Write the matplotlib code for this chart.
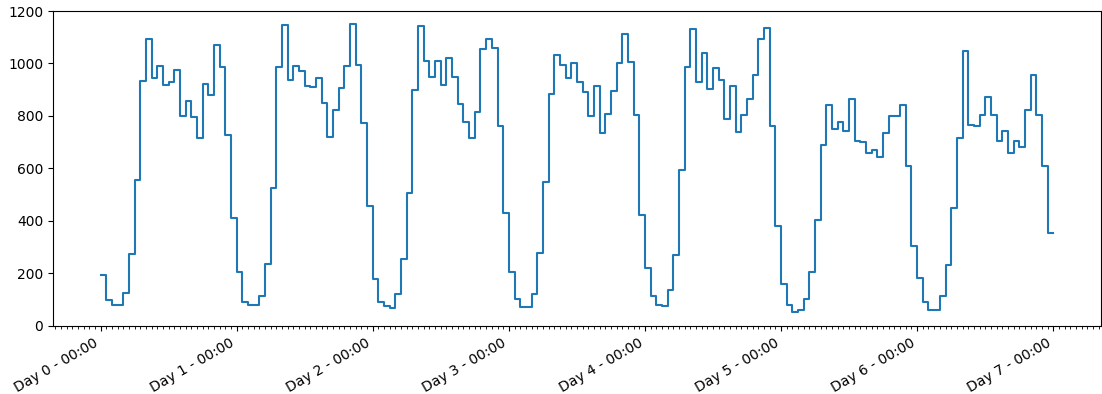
import matplotlib
matplotlib.use("Agg")
import matplotlib.pyplot as plt
import numpy as np
from matplotlib.ticker import MultipleLocator, FixedLocator

day0 = [195, 99, 78, 78, 125, 275, 555, 933, 1092, 945, 990, 919, 931, 977, 799, 856, 796, 716, 920, 879, 1070, 987, 729, 411]
day1 = [207, 92, 78, 78, 115, 235, 525, 987, 1145, 939, 992, 971, 913, 910, 943, 850, 720, 824, 906, 990, 1149, 994, 774, 458]
day2 = [178, 90, 74, 67, 122, 256, 506, 898, 1142, 1009, 949, 1011, 917, 1020, 948, 847, 777, 716, 815, 1057, 1092, 1060, 763, 430]
day3 = [204, 102, 71, 71, 122, 277, 548, 885, 1034, 996, 945, 1003, 930, 891, 799, 913, 735, 809, 897, 1003, 1111, 1005, 805, 424]
day4 = [220, 112, 80, 76, 137, 271, 595, 987, 1130, 929, 1041, 903, 981, 939, 789, 916, 738, 804, 865, 958, 1092, 1134, 761, 379]
day5 = [159, 80, 53, 60, 103, 207, 405, 691, 842, 751, 776, 744, 865, 703, 700, 659, 672, 644, 735, 798, 800, 842, 608, 303]
day6 = [184, 92, 61, 59, 112, 233, 449, 716, 1047, 766, 763, 805, 872, 805, 704, 742, 659, 706, 681, 821, 958, 805, 611, 354]

values = day0 + day1 + day2 + day3 + day4 + day5 + day6
day_labels = [f"Day {d} - 00:00" for d in range(8)]

hours = np.arange(len(values) + 1)
yvals = values + [values[-1]]

fig = plt.figure(figsize=(11.02, 3.94), dpi=100)
ax = fig.add_axes([0.048, 0.173, 0.951, 0.799])
ax.plot(hours, yvals, drawstyle="steps-post", color="#1f77b4", linewidth=1.5)

ax.set_xlim(-0.05 * 168, 168 * 1.05)
ax.set_ylim(0, 1200)
ax.xaxis.set_major_locator(FixedLocator(np.arange(0, 169, 24)))
ax.set_xticklabels(day_labels, rotation=30, ha="right")
ax.xaxis.set_minor_locator(MultipleLocator(1))

fig.savefig("out.png", dpi=100)
